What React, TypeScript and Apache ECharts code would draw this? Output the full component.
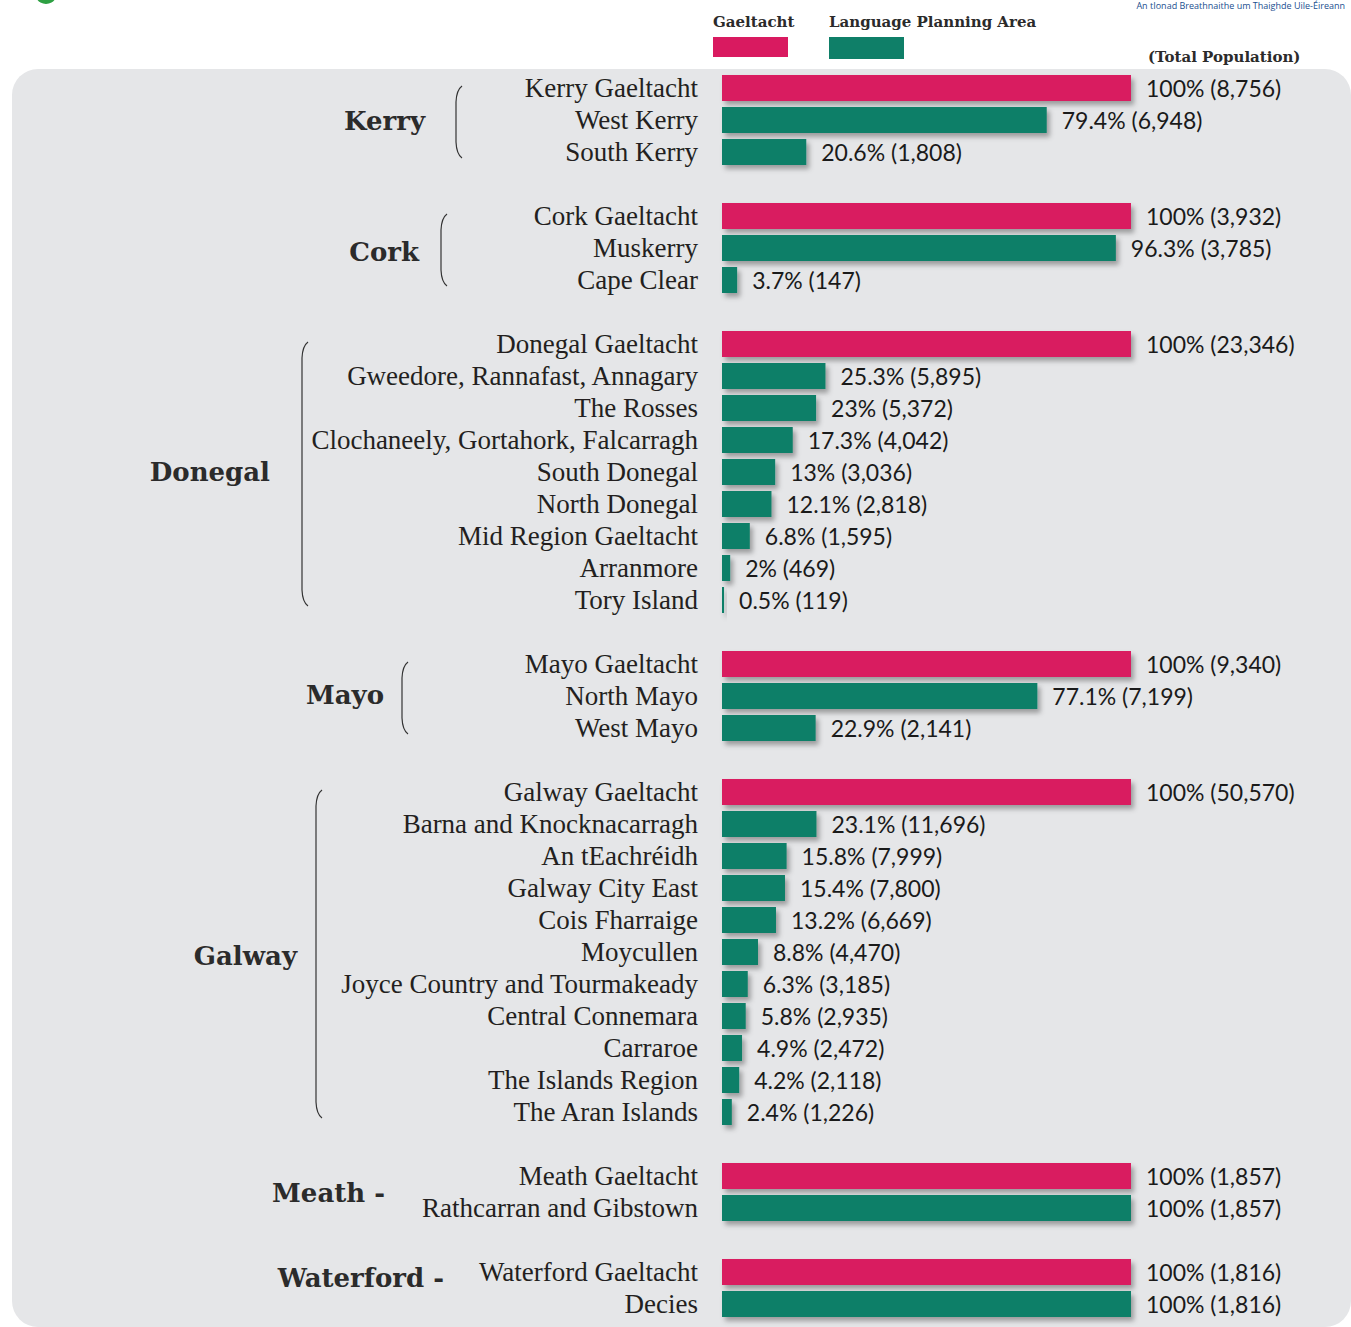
import React, { useEffect, useRef } from 'react';
import * as echarts from 'echarts';

// ---------- data ----------
const areaNames = [
  'Kerry Gaeltacht', 'West Kerry', 'South Kerry',
  'Cork Gaeltacht', 'Muskerry', 'Cape Clear',
  'Donegal Gaeltacht', 'Gweedore, Rannafast, Annagary', 'The Rosses', 'Clochaneely, Gortahork, Falcarragh',
  'South Donegal', 'North Donegal', 'Mid Region Gaeltacht', 'Arranmore', 'Tory Island',
  'Mayo Gaeltacht', 'North Mayo', 'West Mayo',
  'Galway Gaeltacht', 'Barna and Knocknacarragh', 'An tEachréidh', 'Galway City East', 'Cois Fharraige',
  'Moycullen', 'Joyce Country and Tourmakeady', 'Central Connemara', 'Carraroe', 'The Islands Region', 'The Aran Islands',
  'Meath Gaeltacht', 'Rathcarran and Gibstown',
  'Waterford Gaeltacht', 'Decies',
];
const areaCounty = [
  'Kerry', 'Kerry', 'Kerry',
  'Cork', 'Cork', 'Cork',
  'Donegal', 'Donegal', 'Donegal', 'Donegal', 'Donegal', 'Donegal', 'Donegal', 'Donegal', 'Donegal',
  'Mayo', 'Mayo', 'Mayo',
  'Galway', 'Galway', 'Galway', 'Galway', 'Galway', 'Galway', 'Galway', 'Galway', 'Galway', 'Galway', 'Galway',
  'Meath', 'Meath',
  'Waterford', 'Waterford',
];
const isGaeltacht = [
  true, false, false,
  true, false, false,
  true, false, false, false, false, false, false, false, false,
  true, false, false,
  true, false, false, false, false, false, false, false, false, false, false,
  true, false,
  true, false,
];
const percentShare = [
  100, 79.4, 20.6,
  100, 96.3, 3.7,
  100, 25.3, 23, 17.3, 13, 12.1, 6.8, 2, 0.5,
  100, 77.1, 22.9,
  100, 23.1, 15.8, 15.4, 13.2, 8.8, 6.3, 5.8, 4.9, 4.2, 2.4,
  100, 100,
  100, 100,
];
const totalPopulation = [
  '8,756', '6,948', '1,808',
  '3,932', '3,785', '147',
  '23,346', '5,895', '5,372', '4,042', '3,036', '2,818', '1,595', '469', '119',
  '9,340', '7,199', '2,141',
  '50,570', '11,696', '7,999', '7,800', '6,669', '4,470', '3,185', '2,935', '2,472', '2,118', '1,226',
  '1,857', '1,857',
  '1,816', '1,816',
];
const countyKeys = ['Kerry', 'Cork', 'Donegal', 'Mayo', 'Galway', 'Meath', 'Waterford'];
const countyLabels = ['Kerry', 'Cork', 'Donegal', 'Mayo', 'Galway', 'Meath -', 'Waterford -'];
const legendLabels = ['Gaeltacht', 'Language Planning Area'];
const populationHeader = '(Total Population)';
const headerNote = 'An tIonad Breathnaithe um Thaighde Uile-Éireann';

// ---------- layout / style ----------
const PINK = '#d91a60';
const GREEN = '#0f7f68';
const countyLabelRight = [425, 419, 270, 384, 297, 385, 444];
const countyLabelDy = [1, 4, 0, -1, 4, 1, -10];
const braceX = [456, 441, 302, 402, 316, -1, -1];

export default function App() {
  const ref = useRef<HTMLDivElement>(null);

  useEffect(() => {
    if (!ref.current) return;
    const chart = echarts.init(ref.current, undefined, { renderer: 'svg' });

    // build rows with gaps between counties
    const rows: { cat: string; idx: number }[] = [];
    let prev: string | null = null;
    let gapN = 0;
    areaNames.forEach((n, i) => {
      if (prev !== null && areaCounty[i] !== prev) {
        gapN++;
        rows.push({ cat: ' '.repeat(gapN), idx: -1 });
      }
      rows.push({ cat: n, idx: i });
      prev = areaCounty[i];
    });
    const categories = rows.map((r) => r.cat);
    const pinkData = rows.map((r) => (r.idx >= 0 && isGaeltacht[r.idx] ? percentShare[r.idx] : '-'));
    const greenData = rows.map((r) => (r.idx >= 0 && !isGaeltacht[r.idx] ? percentShare[r.idx] : '-'));

    const fmt = (p: any) => {
      const i = rows[p.dataIndex].idx;
      return i >= 0 ? `${percentShare[i]}% (${totalPopulation[i]})` : '';
    };
    const labelStyle = {
      show: true,
      position: 'right',
      distance: 15,
      formatter: fmt,
      fontFamily: 'Lato',
      fontSize: 23,
      color: '#1a1a1a',
    };
    const shadow = {
      shadowColor: 'rgba(0,0,0,0.32)',
      shadowBlur: 5,
      shadowOffsetX: 3,
      shadowOffsetY: 4,
    };

    chart.setOption({
      animation: false,
      grid: { left: 722, right: 220, top: 72, height: categories.length * 32 },
      xAxis: { type: 'value', min: 0, max: 100, show: false },
      yAxis: {
        type: 'category',
        data: categories,
        inverse: true,
        axisLine: { show: false },
        axisTick: { show: false },
        axisLabel: {
          interval: 0,
          margin: 24,
          fontFamily: 'Liberation Serif',
          fontSize: 27,
          color: '#231f20',
        },
      },
      series: [
        {
          type: 'bar',
          name: legendLabels[0],
          data: pinkData,
          barWidth: 26,
          barGap: '-100%',
          itemStyle: { color: PINK, ...shadow },
          label: labelStyle,
        },
        {
          type: 'bar',
          name: legendLabels[1],
          data: greenData,
          barWidth: 26,
          barGap: '-100%',
          itemStyle: { color: GREEN, ...shadow },
          label: labelStyle,
        },
      ],
    });

    // annotations
    const py = (name: string) => chart.convertToPixel({ yAxisIndex: 0 }, name) as number;
    const graphics: any[] = [
      {
        type: 'rect',
        z: -10,
        shape: { x: 12, y: 69, width: 1339, height: 1258, r: 26 },
        style: { fill: '#e5e6e8' },
      },
      { type: 'circle', shape: { cx: 46, cy: -7, r: 11 }, style: { fill: '#2ea043' } },
      {
        type: 'text',
        x: 1345,
        y: 5,
        style: {
          text: headerNote,
          fontFamily: 'Open Sans',
          fontSize: 9,
          fill: '#1b4f8f',
          align: 'right',
          verticalAlign: 'middle',
        },
      },
      {
        type: 'text',
        x: 713,
        y: 22,
        style: {
          text: legendLabels[0],
          fontFamily: 'DejaVu Serif',
          fontWeight: 'bold',
          fontSize: 15,
          fill: '#2b2b2b',
          verticalAlign: 'middle',
        },
      },
      { type: 'rect', shape: { x: 713, y: 37, width: 75, height: 20 }, style: { fill: PINK } },
      {
        type: 'text',
        x: 829,
        y: 22,
        style: {
          text: legendLabels[1],
          fontFamily: 'DejaVu Serif',
          fontWeight: 'bold',
          fontSize: 15,
          fill: '#2b2b2b',
          verticalAlign: 'middle',
        },
      },
      { type: 'rect', shape: { x: 829, y: 37, width: 75, height: 22 }, style: { fill: GREEN } },
      {
        type: 'text',
        x: 1148,
        y: 57,
        style: {
          text: populationHeader,
          fontFamily: 'DejaVu Serif',
          fontWeight: 'bold',
          fontSize: 15,
          fill: '#2b2b2b',
          verticalAlign: 'middle',
        },
      },
    ];

    countyKeys.forEach((c, k) => {
      const idxs = areaNames.map((_, i) => i).filter((i) => areaCounty[i] === c);
      const yFirst = py(areaNames[idxs[0]]);
      const yLast = py(areaNames[idxs[idxs.length - 1]]);
      const yMid = (yFirst + yLast) / 2;
      graphics.push({
        type: 'text',
        x: countyLabelRight[k],
        y: yMid + countyLabelDy[k],
        style: {
          text: countyLabels[k],
          fontFamily: 'DejaVu Serif',
          fontWeight: 'bold',
          fontSize: 26,
          fill: '#2b2b2b',
          align: 'right',
          verticalAlign: 'middle',
        },
      });
      const bx = braceX[k];
      if (bx > 0) {
        const y1 = yFirst - 2;
        const y2 = yLast + 6;
        const st = { stroke: '#333', lineWidth: 1.2, fill: 'none' };
        graphics.push(
          {
            type: 'bezierCurve',
            shape: { x1: bx + 6, y1: y1, cpx1: bx + 0.5, cpy1: y1 + 4, x2: bx, y2: y1 + 16 },
            style: st,
          },
          { type: 'line', shape: { x1: bx, y1: y1 + 16, x2: bx, y2: y2 - 16 }, style: st },
          {
            type: 'bezierCurve',
            shape: { x1: bx, y1: y2 - 16, cpx1: bx + 0.5, cpy1: y2 - 4, x2: bx + 6, y2: y2 },
            style: st,
          }
        );
      }
    });

    chart.setOption({ graphic: graphics });

    return () => chart.dispose();
  }, []);

  return (
    <div
      ref={ref}
      style={{ position: 'absolute', left: 0, top: 0, width: 1351, height: 1327 }}
    />
  );
}
